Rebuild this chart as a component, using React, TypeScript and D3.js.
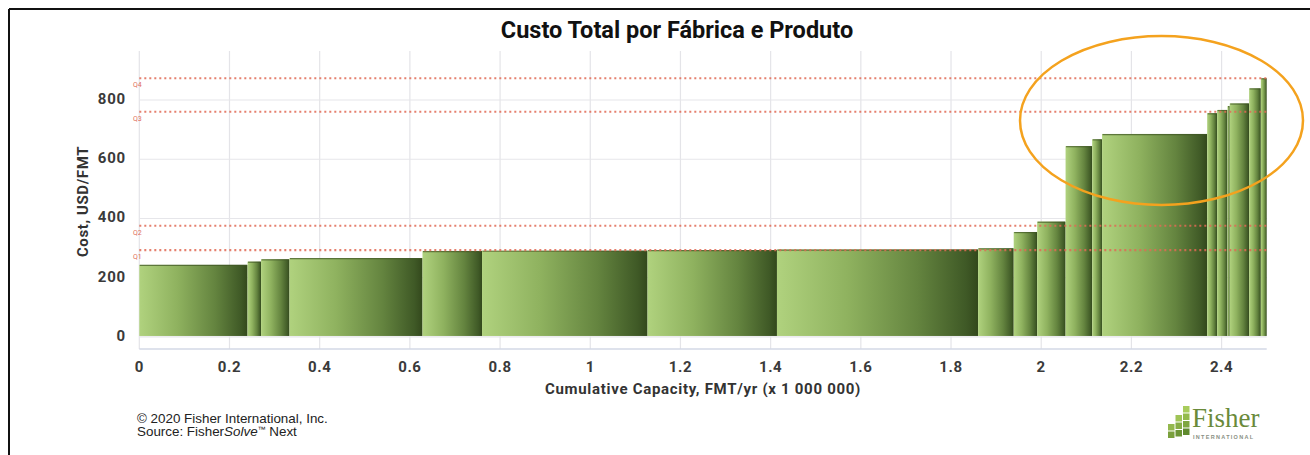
import React from "react";
import * as d3 from "d3";

// Mill/product cost curve: each bar is one mill-product, width = capacity (million FMT/yr)
const capacities = [
  0.24, 0.03, 0.063, 0.295, 0.132, 0.367, 0.287, 0.446, 0.079, 0.052,
  0.063, 0.059, 0.022, 0.233, 0.022, 0.023, 0.005, 0.043, 0.026, 0.013,
];
const costs = [
  240, 251, 259, 263, 287, 288, 290, 292, 296, 351,
  386, 641, 664, 682, 752, 763, 776, 785, 836, 870,
];

// Quartile reference lines
const quartileLabels = ["Q1", "Q2", "Q3", "Q4"];
const quartileValues = [290, 372, 757, 870];

const xTicks = [0, 0.2, 0.4, 0.6, 0.8, 1, 1.2, 1.4, 1.6, 1.8, 2, 2.2, 2.4];
const yTicks = [0, 200, 400, 600, 800];

const W = 1310;
const H = 455;

const x = d3.scaleLinear().domain([0, 2.5]).range([139.3, 1266.7]);
const y = d3.scaleLinear().domain([-44, 962]).range([349, 51]);

const ends = d3.cumsum(capacities);
const bars = capacities.map((c, i) => ({
  x0: ends[i] - c,
  x1: ends[i],
  cost: costs[i],
}));

const fmtTick = (v: number) => (v === 0 || v === 1 || v === 2 ? String(v) : d3.format(".1f")(v));

const tickFont = "Roboto, 'Open Sans', sans-serif";

export default function App() {
  const [plotL, plotR] = x.range();
  const [plotB, plotT] = y.range();

  // logo squares: column, row
  const logoCells: [number, number, string][] = [
    [2, 0, "#a8cc5c"],
    [2, 1, "#93bb4c"],
    [1, 1, "#9fc456"],
    [2, 2, "#7ea640"],
    [1, 2, "#86ad45"],
    [0, 2, "#93b84e"],
    [2, 3, "#5f8a2e"],
    [1, 3, "#6c9535"],
    [0, 3, "#7aa03c"],
  ];

  return (
    <svg
      width={W}
      height={H}
      style={{ position: "absolute", left: 0, top: 0, background: "#fff" }}
    >
      <defs>
        <linearGradient id="barGrad" x1="0" x2="1" y1="0" y2="0">
          <stop offset="0%" stopColor="#b0d27e" />
          <stop offset="35%" stopColor="#8fb25f" />
          <stop offset="70%" stopColor="#64843f" />
          <stop offset="94%" stopColor="#3f5926" />
          <stop offset="100%" stopColor="#33481c" />
        </linearGradient>
      </defs>

      <rect x={0} y={0} width={W} height={H} fill="#fff" />

      {/* frame */}
      <line x1={9} x2={W} y1={9} y2={9} stroke="#111" strokeWidth={2} />
      <line x1={9} x2={9} y1={9} y2={H} stroke="#111" strokeWidth={2} />

      {/* title */}
      <text
        x={677}
        y={37.5}
        textAnchor="middle"
        fontFamily="Roboto, sans-serif"
        fontWeight={700}
        fontSize={23.5}
        fill="#111"
      >
        Custo Total por Fábrica e Produto
      </text>

      {/* gridlines */}
      {xTicks.map((t) => (
        <line
          key={"vx" + t}
          x1={x(t)}
          x2={x(t)}
          y1={plotT}
          y2={plotB}
          stroke="#e4e4e8"
          strokeWidth={1.2}
        />
      ))}
      {yTicks.map((t) => (
        <line
          key={"hy" + t}
          x1={plotL}
          x2={plotR}
          y1={y(t) + 1}
          y2={y(t) + 1}
          stroke="#e6e6ea"
          strokeWidth={1.2}
        />
      ))}

      {/* bars */}
      {bars.map((b, i) => {
        const bx = x(b.x0);
        const bw = x(b.x1) - x(b.x0);
        const top = y(b.cost);
        return (
          <g key={"bar" + i}>
            <rect
              x={bx}
              y={top}
              width={bw}
              height={y(0) - top}
              fill="url(#barGrad)"
            />
            <line
              x1={bx + 0.5}
              x2={bx + bw - 0.5}
              y1={top + 0.6}
              y2={top + 0.6}
              stroke="#3f5624"
              strokeOpacity={0.7}
              strokeWidth={1.2}
            />
          </g>
        );
      })}

      {/* quartile lines */}
      {quartileValues.map((v, i) => (
        <g key={"q" + i}>
          <line
            x1={plotL}
            x2={plotR}
            y1={y(v)}
            y2={y(v)}
            stroke="#e06a55"
            strokeWidth={2.2}
            strokeDasharray="2,3"
            strokeOpacity={0.85}
          />
          <text
            x={133}
            y={y(v) + 9}
            fontFamily="Roboto, sans-serif"
            fontSize={7}
            fill="#e0705c"
          >
            {quartileLabels[i]}
          </text>
        </g>
      ))}

      {/* x axis line */}
      <line x1={plotL} x2={plotR} y1={plotB} y2={plotB} stroke="#d3d8e6" strokeWidth={1.3} />

      {/* y tick labels */}
      {yTicks.map((t) => (
        <text
          key={"yl" + t}
          x={126}
          y={y(t) + 5}
          textAnchor="end"
          fontFamily={tickFont}
          fontWeight={700}
          fontSize={15}
          letterSpacing={0.8}
          fill="#3a3a3a"
        >
          {t}
        </text>
      ))}

      {/* x tick labels */}
      {xTicks.map((t) => (
        <text
          key={"xl" + t}
          x={x(t)}
          y={371.5}
          textAnchor="middle"
          fontFamily={tickFont}
          fontWeight={700}
          fontSize={15}
          letterSpacing={0.6}
          fill="#3a3a3a"
        >
          {fmtTick(t)}
        </text>
      ))}

      {/* axis titles */}
      <text
        transform="translate(88,201.5) rotate(-90)"
        textAnchor="middle"
        fontFamily="Roboto, sans-serif"
        fontWeight={700}
        fontSize={15}
        letterSpacing={0.6}
        fill="#333"
      >
        Cost, USD/FMT
      </text>
      <text
        x={703}
        y={394}
        textAnchor="middle"
        fontFamily="Roboto, sans-serif"
        fontWeight={700}
        fontSize={15}
        letterSpacing={0.7}
        fill="#333"
      >
        Cumulative Capacity, FMT/yr (x 1 000 000)
      </text>

      {/* highlight ellipse */}
      <ellipse
        cx={1161.5}
        cy={120.5}
        rx={141.5}
        ry={84.5}
        fill="none"
        stroke="#f4a21e"
        strokeWidth={2.5}
      />

      {/* footer */}
      <text x={137} y={422.5} fontFamily="'Liberation Sans', Arial, sans-serif" fontSize={13.4} fill="#222">
        © 2020 Fisher International, Inc.
      </text>
      <text x={137} y={436} fontFamily="'Liberation Sans', Arial, sans-serif" fontSize={13.4} fill="#222">
        Source: Fisher<tspan fontStyle="italic">Solve</tspan>
        <tspan fontSize={8} dy={-4}>™</tspan>
        <tspan dy={4}> Next</tspan>
      </text>

      {/* logo */}
      <g>
        {logoCells.map(([c, r, col], i) => (
          <rect
            key={"lc" + i}
            x={1168 + c * 7.5}
            y={409 + r * 7.5 - c * 1.5}
            width={6.5}
            height={6.5}
            fill={col}
          />
        ))}
        <text
          x={1192}
          y={427}
          fontFamily="'Liberation Serif', 'DejaVu Serif', serif"
          fontSize={27}
          fill="#6a8a3a"
        >
          Fisher
        </text>
        <text
          x={1193}
          y={439}
          fontFamily="'Liberation Sans', Arial, sans-serif"
          fontWeight={700}
          fontSize={5.5}
          letterSpacing={1.3}
          fill="#8a8f84"
        >
          INTERNATIONAL
        </text>
      </g>
    </svg>
  );
}
